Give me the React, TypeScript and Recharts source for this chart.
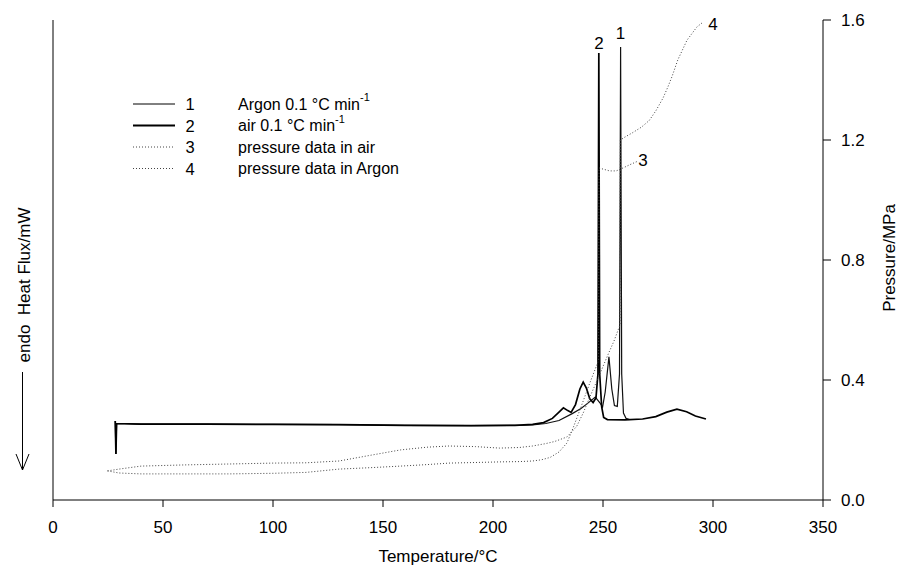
import React from "react";
import { LineChart, Line, XAxis, YAxis, ReferenceDot } from "recharts";

if (typeof document !== "undefined") document.body.style.margin = "0";

// DSC curve 1 - Argon 0.1 °C/min (heat flux, arbitrary units on hidden scale)
const argonT = [28.3, 28.6, 28.9, 40, 70, 100, 130, 160, 190, 210, 218, 224, 230, 236, 240, 243, 246.5, 248.5, 249.8, 251, 252.7, 254, 255.2, 256.5, 257.5, 258, 258.5, 259.3, 260.5, 262];
const argonFlux = [0.263, 0.153, 0.255, 0.253, 0.253, 0.252, 0.251, 0.249, 0.248, 0.249, 0.25, 0.255, 0.265, 0.288, 0.305, 0.322, 0.343, 0.325, 0.31, 0.36, 0.477, 0.37, 0.315, 0.312, 0.42, 1.51, 0.42, 0.29, 0.272, 0.268];

// DSC curve 2 - air 0.1 °C/min
const airT = [28.3, 28.6, 28.9, 40, 70, 100, 130, 160, 190, 210, 218, 223, 227, 230, 232, 234, 235.5, 237.5, 239.5, 241, 242.5, 244, 245.5, 246.8, 247.7, 248.1, 248.5, 249.4, 250.3, 252, 260, 268, 274, 279, 283.6, 288, 292, 296.8];
const airFlux = [0.263, 0.153, 0.255, 0.253, 0.253, 0.252, 0.251, 0.249, 0.248, 0.249, 0.252, 0.258, 0.272, 0.293, 0.307, 0.298, 0.292, 0.318, 0.37, 0.393, 0.372, 0.337, 0.325, 0.34, 0.42, 1.49, 0.42, 0.31, 0.275, 0.268, 0.267, 0.27, 0.278, 0.293, 0.303, 0.294, 0.28, 0.27];

// curve 3 - pressure data in air (MPa)
const pAirT = [24.8, 30, 40, 60, 80, 100, 115, 130, 145, 158, 170, 180, 192, 203, 212, 218, 222, 226, 230, 233.6, 236.4, 240, 244, 248, 248.2, 250, 253, 256, 258, 262, 266];
const pAir = [0.097, 0.09, 0.087, 0.087, 0.087, 0.089, 0.092, 0.103, 0.108, 0.113, 0.118, 0.123, 0.125, 0.127, 0.128, 0.13, 0.134, 0.142, 0.16, 0.19, 0.24, 0.31, 0.39, 0.465, 1.107, 1.103, 1.097, 1.097, 1.103, 1.117, 1.13];

// curve 4 - pressure data in Argon (MPa)
const pArgonT = [24.8, 30, 40, 60, 80, 100, 115, 130, 145, 158, 170, 180, 192, 203, 212, 218, 224, 228, 233.6, 238, 241, 244, 248, 252, 255, 257.7, 257.9, 260, 263.6, 267.5, 271, 274, 277.3, 279.5, 281.4, 284, 288.2, 292.7, 295.5];
const pArgon = [0.097, 0.103, 0.113, 0.117, 0.12, 0.123, 0.124, 0.13, 0.15, 0.167, 0.176, 0.18, 0.178, 0.173, 0.175, 0.18, 0.188, 0.195, 0.21, 0.245, 0.29, 0.343, 0.41, 0.48, 0.53, 0.583, 1.2, 1.21, 1.225, 1.243, 1.265, 1.297, 1.34, 1.377, 1.412, 1.467, 1.533, 1.577, 1.593];

const xTicks = [0, 50, 100, 150, 200, 250, 300, 350];
const pressureTicks = [0, 0.4, 0.8, 1.2, 1.6];

const curveLabels = [
  { id: "2", t: 248.2, v: 1.523 },
  { id: "1", t: 258, v: 1.557 },
  { id: "3", t: 268.2, v: 1.133 },
  { id: "4", t: 300, v: 1.587 },
];

const legendRows = [
  { num: "1", text: "Argon 0.1 °C min", sup: "-1", width: 1, dash: undefined },
  { num: "2", text: "air 0.1 °C min", sup: "-1", width: 1.8, dash: undefined },
  { num: "3", text: "pressure data in air", sup: "", width: 1, dash: "1 2" },
  { num: "4", text: "pressure data in Argon", sup: "", width: 1, dash: "1 2" },
];

const toPoints = (xs: number[], ys: number[]) => xs.map((t, i) => ({ t, v: ys[i] }));

const FONT = "'Liberation Sans', Arial, sans-serif";
const tickStyle = { fill: "#000", fontSize: 17, fontFamily: FONT };

export default function App() {
  return (
    <div style={{ position: "relative", width: 900, height: 571, background: "#fff", fontFamily: FONT }}>
      <LineChart width={900} height={571} margin={{ top: 20, right: 17, bottom: 31, left: 52 }}>
        <XAxis
          type="number"
          dataKey="t"
          domain={[0, 350]}
          ticks={xTicks}
          allowDataOverflow
          tick={tickStyle}
          tickSize={7}
          tickMargin={14}
          height={40}
          stroke="#000"
        />
        <YAxis yAxisId="left" domain={[0, 1.6]} tick={false} tickLine={false} width={1} stroke="#000" />
        <YAxis
          yAxisId="right"
          orientation="right"
          domain={[0, 1.6]}
          ticks={pressureTicks}
          tickFormatter={(v: number) => v.toFixed(1)}
          tick={tickStyle}
          tickSize={8}
          tickMargin={10}
          width={60}
          stroke="#000"
        />
        <Line yAxisId="left" data={toPoints(argonT, argonFlux)} dataKey="v" type="linear" stroke="#111" strokeWidth={1.2} dot={false} isAnimationActive={false} />
        <Line yAxisId="left" data={toPoints(airT, airFlux)} dataKey="v" type="linear" stroke="#000" strokeWidth={1.7} dot={false} isAnimationActive={false} />
        <Line yAxisId="right" data={toPoints(pAirT, pAir)} dataKey="v" type="linear" stroke="#444" strokeWidth={1} strokeDasharray="1 2" dot={false} isAnimationActive={false} />
        <Line yAxisId="right" data={toPoints(pArgonT, pArgon)} dataKey="v" type="linear" stroke="#444" strokeWidth={1} strokeDasharray="1 2" dot={false} isAnimationActive={false} />
        {curveLabels.map((c) => (
          <ReferenceDot
            key={c.id}
            yAxisId="right"
            x={c.t}
            y={c.v}
            r={0}
            ifOverflow="visible"
            label={{ value: c.id, position: "center", fill: "#000", fontSize: 17, fontFamily: FONT }}
          />
        ))}
      </LineChart>

      <svg width={900} height={571} style={{ position: "absolute", left: 0, top: 0, pointerEvents: "none" }}>
        {/* legend */}
        {legendRows.map((r, i) => {
          const y = 104 + i * 21.5;
          return (
            <g key={r.num}>
              <line x1={133} x2={175} y1={y} y2={y} stroke={r.dash ? "#444" : "#000"} strokeWidth={r.width} strokeDasharray={r.dash} />
              <text x={190} y={y} textAnchor="middle" dominantBaseline="central" fontSize={16.5} fontFamily={FONT}>{r.num}</text>
              <text x={238} y={y} dominantBaseline="central" fontSize={16} fontFamily={FONT}>
                {r.text}
                {r.sup && <tspan fontSize={11} dy={-7}>{r.sup}</tspan>}
              </text>
            </g>
          );
        })}
        {/* axis titles */}
        <text x={438} y={556} textAnchor="middle" dominantBaseline="central" fontSize={17} fontFamily={FONT}>Temperature/°C</text>
        <text transform="translate(889,258) rotate(-90)" textAnchor="middle" dominantBaseline="central" fontSize={17} fontFamily={FONT}>Pressure/MPa</text>
        <text transform="translate(24,285) rotate(-90)" textAnchor="middle" dominantBaseline="central" fontSize={17} fontFamily={FONT} xmlSpace="preserve">endo  Heat Flux/mW</text>
        <line x1={22.5} x2={22.5} y1={372} y2={470} stroke="#000" strokeWidth={1} />
        <polyline points="16,454 22.5,470 29,454" fill="none" stroke="#000" strokeWidth={1} />
      </svg>
    </div>
  );
}
